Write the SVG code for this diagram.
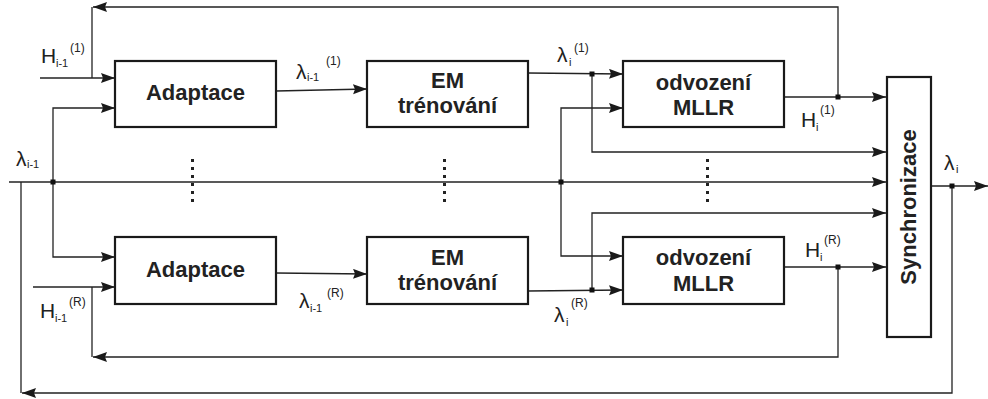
<svg xmlns="http://www.w3.org/2000/svg" width="988" height="399" viewBox="0 0 988 399">
<defs>
<marker id="arr" markerUnits="userSpaceOnUse" markerWidth="15" markerHeight="11" refX="14" refY="5" orient="auto">
<path d="M0,0 L14,5 L0,10 L2,5 z" fill="#1a1a1a"/>
</marker>
<style>
.box{fill:#fff;stroke:#1a1a1a;stroke-width:2.2}
.bt{font-family:"Liberation Sans",Arial,sans-serif;font-weight:bold;font-size:22px;fill:#222;text-anchor:middle}
.ln{fill:none;stroke:#222;stroke-width:1.3}
.ar{marker-end:url(#arr)}
.lb{font-family:"Liberation Sans",Arial,sans-serif;fill:#222;font-size:21px}
.sb{font-size:11px}
.sp{font-size:12px}
.dot{fill:#111}
.dt{stroke:#222;stroke-width:3;stroke-dasharray:3 5}
</style>
</defs>
<rect width="988" height="399" fill="#fff"/>
<g id="connectors">
<path class="ln ar" d="M838,97 V7 H93"/>
<path class="ln" d="M92,7 V78"/>
<path class="ln ar" d="M40,78 H115"/>
<path class="ln ar" d="M9,182 H886"/>
<path class="ln ar" d="M53,182 V108 H115"/>
<path class="ln ar" d="M53,182 V257 H115"/>
<path class="ln ar" d="M276,91 L367,89"/>
<path class="ln ar" d="M276,273 L367,274"/>
<path class="ln ar" d="M528,73 L623,74"/>
<path class="ln ar" d="M592,74 V152 H886"/>
<path class="ln ar" d="M561,182 V108 H623"/>
<path class="ln ar" d="M561,182 V256 H623"/>
<path class="ln ar" d="M528,291 L623,290"/>
<path class="ln ar" d="M592,290 V213 H886"/>
<path class="ln ar" d="M784,97 H886"/>
<path class="ln ar" d="M784,267 H886"/>
<path class="ln ar" d="M838,267 V357 H93"/>
<path class="ln" d="M92,287 V357"/>
<path class="ln ar" d="M33,287 H115"/>
<path class="ln ar" d="M931,186 H988"/>
<path class="ln ar" d="M952,186 V393 H22"/>
<path class="ln" d="M21,182 V393"/>
<rect class="dot" x="50.5" y="179.5" width="5" height="5"/>
<rect class="dot" x="589.5" y="71.5" width="5" height="5"/>
<rect class="dot" x="558.5" y="179.5" width="5" height="5"/>
<rect class="dot" x="589.5" y="287.5" width="5" height="5"/>
<rect class="dot" x="835.5" y="94.5" width="5" height="5"/>
<rect class="dot" x="835.5" y="264.5" width="5" height="5"/>
<rect class="dot" x="949.5" y="183.5" width="5" height="5"/>
<line class="dt" x1="192.5" y1="159" x2="192.5" y2="203"/>
<line class="dt" x1="444.5" y1="159" x2="444.5" y2="203"/>
<line class="dt" x1="707.5" y1="159" x2="707.5" y2="203"/>
</g>
<g id="adaptace1">
<rect class="box" x="115" y="61" width="161" height="66"/>
<text class="bt" x="195.5" y="100">Adaptace</text>
</g>
<g id="adaptace2">
<rect class="box" x="115" y="237" width="161" height="67"/>
<text class="bt" x="195.5" y="277">Adaptace</text>
</g>
<g id="em1">
<rect class="box" x="367" y="61" width="161" height="66"/>
<text class="bt" x="447.5" y="88">EM</text>
<text class="bt" x="447.5" y="113">trénování</text>
</g>
<g id="em2">
<rect class="box" x="367" y="237" width="161" height="67"/>
<text class="bt" x="447.5" y="265">EM</text>
<text class="bt" x="447.5" y="290">trénování</text>
</g>
<g id="mllr1">
<rect class="box" x="623" y="61" width="161" height="66"/>
<text class="bt" x="703.5" y="90">odvození</text>
<text class="bt" x="703.5" y="115">MLLR</text>
</g>
<g id="mllr2">
<rect class="box" x="623" y="237" width="161" height="67"/>
<text class="bt" x="703.5" y="265">odvození</text>
<text class="bt" x="703.5" y="291">MLLR</text>
</g>
<g id="synchronizace">
<rect class="box" x="887" y="77" width="44" height="260"/>
<text class="bt" transform="translate(916,207) rotate(-90)" x="0" y="0">Synchronizace</text>
</g>
<g id="labels">
<text class="lb" x="41" y="63">H</text><text class="lb sb" x="56" y="67">i-1</text><text class="lb sp" x="70" y="52">(1)</text>
<text class="lb" x="16" y="166">λ</text><text class="lb sb" x="27" y="168">i-1</text>
<text class="lb" x="296" y="79">λ</text><text class="lb sb" x="307" y="81">i-1</text><text class="lb sp" x="326" y="65">(1)</text>
<text class="lb" x="557" y="62">λ</text><text class="lb sb" x="569" y="66">i</text><text class="lb sp" x="574" y="52">(1)</text>
<text class="lb" x="801" y="127">H</text><text class="lb sb" x="816" y="131">i</text><text class="lb sp" x="820" y="114">(1)</text>
<text class="lb" x="944" y="170">λ</text><text class="lb sb" x="956" y="173">i</text>
<text class="lb" x="805" y="257">H</text><text class="lb sb" x="820" y="261">i</text><text class="lb sp" x="824" y="244">(R)</text>
<text class="lb" x="554" y="322">λ</text><text class="lb sb" x="566" y="326">i</text><text class="lb sp" x="571" y="307">(R)</text>
<text class="lb" x="299" y="308">λ</text><text class="lb sb" x="310" y="312">i-1</text><text class="lb sp" x="327" y="297">(R)</text>
<text class="lb" x="40" y="318">H</text><text class="lb sb" x="55" y="322">i-1</text><text class="lb sp" x="69" y="306">(R)</text>
</g>
</svg>
